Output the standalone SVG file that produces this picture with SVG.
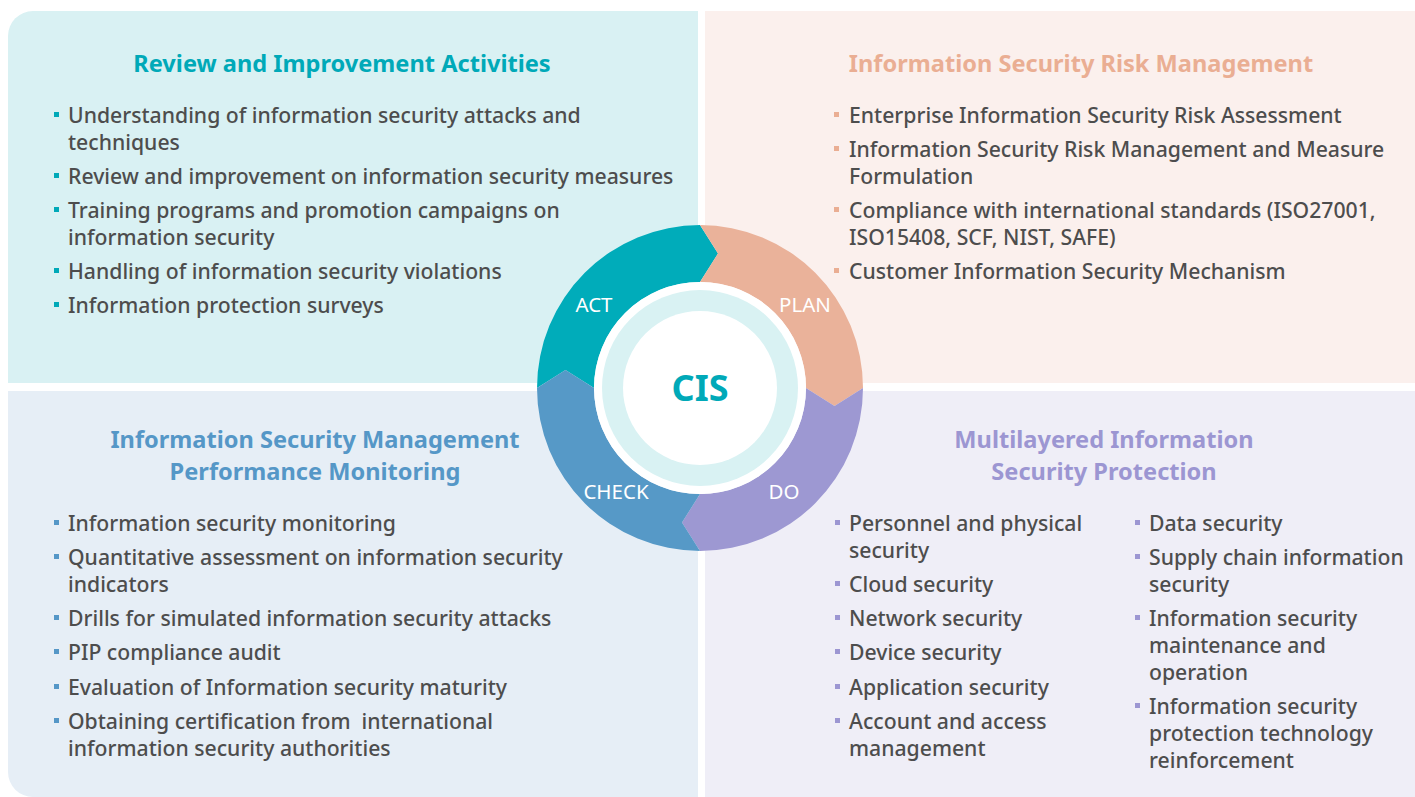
<svg xmlns="http://www.w3.org/2000/svg" width="1415" height="797" viewBox="0 0 1415 797">
<style>
.title{font-family:"Noto Sans","Liberation Sans",sans-serif;font-weight:bold;font-size:23.6px;text-anchor:middle}
.body{font-family:"Noto Sans","Liberation Sans",sans-serif;font-size:21.2px;font-weight:500;fill:#4d4d4d}
.lbl{font-family:"Noto Sans","Liberation Sans",sans-serif;font-size:20.5px;fill:#ffffff;text-anchor:middle}
.t1{fill:#00A9B8}.t2{fill:#EAAE93}.t3{fill:#5597C7}.t4{fill:#9C96D2}
</style>
<rect width="1415" height="797" fill="#ffffff"/>
<g id="panel-act">
<path d="M33,11 H698 V383 H8 V36 A25,25 0 0 1 33,11 Z" fill="#D9F1F3"/>
<text class="title t1" x="342" y="72">Review and Improvement Activities</text>
<g class="t1"><rect x="54" y="112" width="5" height="5"/><rect x="54" y="173" width="5" height="5"/><rect x="54" y="207" width="5" height="5"/><rect x="54" y="268" width="5" height="5"/><rect x="54" y="302" width="5" height="5"/></g>
<text class="body"><tspan x="68" y="123">Understanding of information security attacks and</tspan><tspan x="68" y="150">techniques</tspan><tspan x="68" y="184">Review and improvement on information security measures</tspan><tspan x="68" y="218">Training programs and promotion campaigns on</tspan><tspan x="68" y="245">information security</tspan><tspan x="68" y="279">Handling of information security violations</tspan><tspan x="68" y="313">Information protection surveys</tspan></text>
</g>
<g id="panel-plan">
<rect x="705" y="11" width="710" height="372" fill="#FBF0ED"/>
<text class="title t2" x="1081" y="72">Information Security Risk Management</text>
<g class="t2"><rect x="834" y="112" width="5" height="5"/><rect x="834" y="146" width="5" height="5"/><rect x="834" y="207" width="5" height="5"/><rect x="834" y="268" width="5" height="5"/></g>
<text class="body"><tspan x="849" y="123">Enterprise Information Security Risk Assessment</tspan><tspan x="849" y="157">Information Security Risk Management and Measure</tspan><tspan x="849" y="184">Formulation</tspan><tspan x="849" y="218">Compliance with international standards (ISO27001,</tspan><tspan x="849" y="245">ISO15408, SCF, NIST, SAFE)</tspan><tspan x="849" y="279">Customer Information Security Mechanism</tspan></text>
</g>
<g id="panel-check">
<path d="M8,391 H698 V797 H33 A25,25 0 0 1 8,772 Z" fill="#E6EEF6"/>
<text class="title t3"><tspan x="315" y="448">Information Security Management</tspan><tspan x="315" y="480">Performance Monitoring</tspan></text>
<g class="t3"><rect x="54" y="520" width="5" height="5"/><rect x="54" y="554" width="5" height="5"/><rect x="54" y="615" width="5" height="5"/><rect x="54" y="649" width="5" height="5"/><rect x="54" y="684" width="5" height="5"/><rect x="54" y="718" width="5" height="5"/></g>
<text class="body"><tspan x="68" y="531">Information security monitoring</tspan><tspan x="68" y="565">Quantitative assessment on information security</tspan><tspan x="68" y="592">indicators</tspan><tspan x="68" y="626">Drills for simulated information security attacks</tspan><tspan x="68" y="660">PIP compliance audit</tspan><tspan x="68" y="695">Evaluation of Information security maturity</tspan><tspan x="68" y="729">Obtaining certification from&#160; international</tspan><tspan x="68" y="756">information security authorities</tspan></text>
</g>
<g id="panel-do">
<rect x="705" y="391" width="710" height="406" fill="#EFEEF7"/>
<text class="title t4"><tspan x="1104" y="448">Multilayered Information</tspan><tspan x="1104" y="480">Security Protection</tspan></text>
<g class="t4"><rect x="835" y="520" width="5" height="5"/><rect x="835" y="581" width="5" height="5"/><rect x="835" y="615" width="5" height="5"/><rect x="835" y="649" width="5" height="5"/><rect x="835" y="684" width="5" height="5"/><rect x="835" y="718" width="5" height="5"/>
<rect x="1135" y="520" width="5" height="5"/><rect x="1135" y="554" width="5" height="5"/><rect x="1135" y="615" width="5" height="5"/><rect x="1135" y="703" width="5" height="5"/></g>
<text class="body"><tspan x="849" y="531">Personnel and physical</tspan><tspan x="849" y="558">security</tspan><tspan x="849" y="592">Cloud security</tspan><tspan x="849" y="626">Network security</tspan><tspan x="849" y="660">Device security</tspan><tspan x="849" y="695">Application security</tspan><tspan x="849" y="729">Account and access</tspan><tspan x="849" y="756">management</tspan></text>
<text class="body"><tspan x="1149" y="531">Data security</tspan><tspan x="1149" y="565">Supply chain information</tspan><tspan x="1149" y="592">security</tspan><tspan x="1149" y="626">Information security</tspan><tspan x="1149" y="653">maintenance and</tspan><tspan x="1149" y="680">operation</tspan><tspan x="1149" y="714">Information security</tspan><tspan x="1149" y="741">protection technology</tspan><tspan x="1149" y="768">reinforcement</tspan></text>
</g>
<g id="cycle">
<path id="seg-act" d="M537,388 A163,163 0 0 1 700,225 L718,253.5 L700,282 A106,106 0 0 0 594,388 L565.5,370 Z" fill="#00ACBA"/>
<path id="seg-plan" d="M700,225 A163,163 0 0 1 863,388 L834.5,406 L806,388 A106,106 0 0 0 700,282 L718,253.5 Z" fill="#EAB29A"/>
<path id="seg-do" d="M863,388 A163,163 0 0 1 700,551 L682,522.5 L700,494 A106,106 0 0 0 806,388 L834.5,406 Z" fill="#9D98D2"/>
<path id="seg-check" d="M700,551 A163,163 0 0 1 537,388 L565.5,370 L594,388 A106,106 0 0 0 700,494 L682,522.5 Z" fill="#5699C7"/>
<circle cx="700" cy="388" r="106" fill="#ffffff"/>
<circle cx="700" cy="388" r="98" fill="#D9F2F3"/>
<circle cx="700" cy="388" r="77" fill="#ffffff"/>
<text class="lbl" x="594" y="312">ACT</text>
<text class="lbl" x="805" y="312">PLAN</text>
<text class="lbl" x="616" y="499">CHECK</text>
<text class="lbl" x="784" y="499">DO</text>
<text x="700" y="401" font-family="Noto Sans, Liberation Sans, sans-serif" font-weight="bold" font-size="36" fill="#00A9B8" text-anchor="middle">CIS</text>
</g>
</svg>
